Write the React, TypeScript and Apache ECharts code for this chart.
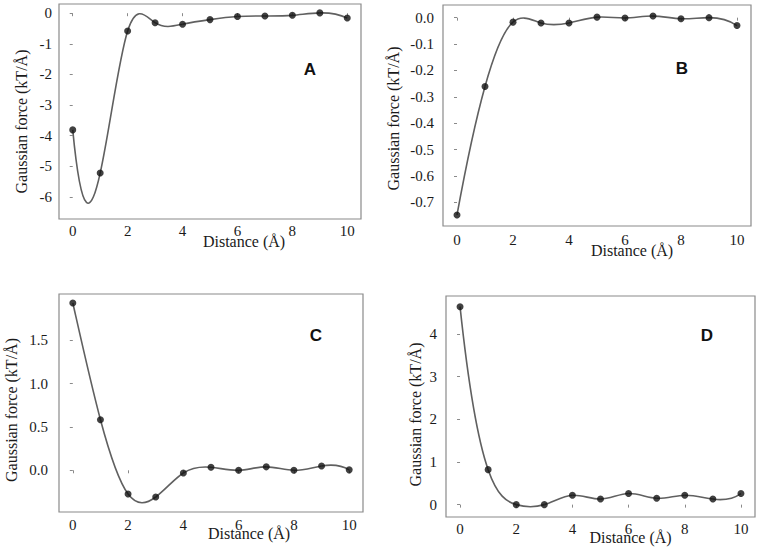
import React, { useEffect, useRef } from "react";
import * as echarts from "echarts";

// ---- Data ----
const distances = [0, 1, 2, 3, 4, 5, 6, 7, 8, 9, 10];
const forceA = [-3.81, -5.22, -0.58, -0.31, -0.36, -0.21, -0.11, -0.09, -0.07, 0.01, -0.16];
const forceB = [-0.748, -0.261, -0.017, -0.02, -0.02, 0.002, -0.001, 0.006, -0.004, 0.0, -0.03];
const forceC = [1.93, 0.584, -0.273, -0.308, -0.031, 0.035, 0.0, 0.04, 0.0, 0.05, 0.005];
const forceD = [4.64, 0.82, 0.0, 0.0, 0.22, 0.13, 0.26, 0.15, 0.22, 0.13, 0.26];

const xTicks = [0, 2, 4, 6, 8, 10];
const yTicksA = [-6, -5, -4, -3, -2, -1, 0];
const yTicksB = [-0.7, -0.6, -0.5, -0.4, -0.3, -0.2, -0.1, 0];
const yTicksC = [0, 0.5, 1, 1.5];
const yTicksD = [0, 1, 2, 3, 4];
const panelLetters = ["A", "B", "C", "D"];
const xTitle = "Distance (Å)";
const yTitle = "Gaussian force (kT/Å)";

// not-a-knot cubic spline slopes (curve rendering of the data points)
function splineSlopes(xs: number[], ys: number[]): number[] {
  const n = xs.length;
  const h = xs.slice(1).map((x, i) => x - xs[i]);
  const A: number[][] = Array.from({ length: n }, () => new Array(n).fill(0));
  const b: number[] = new Array(n).fill(0);
  for (let i = 1; i < n - 1; i++) {
    A[i][i - 1] = h[i - 1];
    A[i][i] = 2 * (h[i - 1] + h[i]);
    A[i][i + 1] = h[i];
    b[i] = 6 * ((ys[i + 1] - ys[i]) / h[i] - (ys[i] - ys[i - 1]) / h[i - 1]);
  }
  A[0][0] = h[1]; A[0][1] = -(h[0] + h[1]); A[0][2] = h[0];
  A[n - 1][n - 3] = h[n - 2]; A[n - 1][n - 2] = -(h[n - 3] + h[n - 2]); A[n - 1][n - 1] = h[n - 3];
  for (let c = 0; c < n; c++) {
    let p = c;
    for (let r = c + 1; r < n; r++) if (Math.abs(A[r][c]) > Math.abs(A[p][c])) p = r;
    [A[c], A[p]] = [A[p], A[c]];
    [b[c], b[p]] = [b[p], b[c]];
    for (let r = c + 1; r < n; r++) {
      const f = A[r][c] / A[c][c];
      if (f === 0) continue;
      for (let k = c; k < n; k++) A[r][k] -= f * A[c][k];
      b[r] -= f * b[c];
    }
  }
  const M = new Array(n).fill(0);
  for (let r = n - 1; r >= 0; r--) {
    let s = b[r];
    for (let k = r + 1; k < n; k++) s -= A[r][k] * M[k];
    M[r] = s / A[r][r];
  }
  return ys.map((_, i) =>
    i < n - 1
      ? (ys[i + 1] - ys[i]) / h[i] - (h[i] * (2 * M[i] + M[i + 1])) / 6
      : (ys[i] - ys[i - 1]) / h[i - 1] + (h[i - 1] * (M[i - 1] + 2 * M[i])) / 6
  );
}

const SERIF = "'Liberation Serif', 'Times New Roman', 'DejaVu Serif', serif";
const TEXT = "#1a1a1a";
const BOX = "#8a8a8a";

type Panel = {
  ys: number[];
  yTicks: number[];
  yMin: number;
  yMax: number;
  fmt: (v: number) => string;
  grid: { left: number; top: number; width: number; height: number };
  xLabelMargin: number;
  yLabelMargin: number;
  xNameGap: number;
  xNameShift: number;
  yNameGap: number;
  yNameShift: number;
  letterPos: [number, number];
};

const panels: Panel[] = [
  {
    ys: forceA, yTicks: yTicksA, yMin: -6.72, yMax: 0.3, fmt: (v) => String(v),
    grid: { left: 59, top: 4, width: 302, height: 215 },
    xLabelMargin: 4, yLabelMargin: 7, xNameGap: 14, xNameShift: 34, yNameGap: 30, yNameShift: 10,
    letterPos: [310, 69],
  },
  {
    ys: forceB, yTicks: yTicksB, yMin: -0.79, yMax: 0.048, fmt: (v) => v.toFixed(1),
    grid: { left: 443, top: 5, width: 308, height: 221 },
    xLabelMargin: 6, yLabelMargin: 9, xNameGap: 16, xNameShift: 35, yNameGap: 42, yNameShift: 3,
    letterPos: [682, 68],
  },
  {
    ys: forceC, yTicks: yTicksC, yMin: -0.481, yMax: 2.034, fmt: (v) => v.toFixed(1),
    grid: { left: 59, top: 294, width: 304, height: 218 },
    xLabelMargin: 5, yLabelMargin: 11, xNameGap: 13, xNameShift: 38, yNameGap: 40, yNameShift: 7,
    letterPos: [316, 335],
  },
  {
    ys: forceD, yTicks: yTicksD, yMin: -0.29, yMax: 4.89, fmt: (v) => String(v),
    grid: { left: 446, top: 296, width: 309, height: 221 },
    xLabelMargin: 4, yLabelMargin: 9, xNameGap: 12, xNameShift: 30, yNameGap: 23, yNameShift: 8,
    letterPos: [707, 335],
  },
];

export default function App() {
  const ref = useRef<HTMLDivElement>(null);
  useEffect(() => {
    if (!ref.current) return;
    const chart = echarts.init(ref.current, undefined, { renderer: "svg" });

    const grids: any[] = [];
    const xAxes: any[] = [];
    const yAxes: any[] = [];
    const series: any[] = [];
    const graphics: any[] = [];

    panels.forEach((p, gi) => {
      grids.push({
        ...p.grid,
        show: true,
        borderColor: BOX,
        borderWidth: 1.2,
        backgroundColor: "transparent",
        containLabel: false,
      });
      xAxes.push({
        type: "value",
        gridIndex: gi,
        min: -0.5,
        max: 10.5,
        name: xTitle,
        nameLocation: "middle",
        nameGap: p.xNameGap,
        nameMoveOverlap: false,
        nameTextStyle: {
          fontFamily: SERIF,
          fontSize: 16,
          color: TEXT,
          padding: [0, 0, 0, p.xNameShift * 2],
        },
        axisLine: { show: false },
        splitLine: { show: false },
        axisTick: {
          show: true,
          length: 3,
          customValues: xTicks,
          lineStyle: { color: BOX },
        },
        axisLabel: {
          customValues: xTicks,
          fontFamily: SERIF,
          fontSize: 15,
          color: TEXT,
          margin: p.xLabelMargin,
        },
      });
      yAxes.push({
        type: "value",
        gridIndex: gi,
        min: p.yMin,
        max: p.yMax,
        name: yTitle,
        nameLocation: "middle",
        nameGap: p.yNameGap,
        nameMoveOverlap: false,
        nameRotate: 90,
        nameTextStyle: {
          fontFamily: SERIF,
          fontSize: 16,
          color: TEXT,
          padding: [0, p.yNameShift * 2, 0, 0],
        },
        axisLine: { show: false },
        splitLine: { show: false },
        axisTick: {
          show: true,
          length: 3,
          customValues: p.yTicks,
          lineStyle: { color: BOX },
        },
        axisLabel: {
          customValues: p.yTicks,
          fontFamily: SERIF,
          fontSize: 15,
          color: TEXT,
          margin: p.yLabelMargin,
          formatter: (v: number) => p.fmt(v),
        },
      });

      const ys = p.ys;
      const slopes = splineSlopes(distances, ys);
      const pts = distances.map((x, i) => [x, ys[i]]);
      series.push({
        type: "custom",
        xAxisIndex: gi,
        yAxisIndex: gi,
        data: pts,
        encode: { x: 0, y: 1 },
        silent: true,
        renderItem: (params: any, api: any) => {
          const i = params.dataIndex;
          if (i >= distances.length - 1) return null;
          const x0 = distances[i];
          const x1 = distances[i + 1];
          const h = x1 - x0;
          const p0 = api.coord([x0, ys[i]]);
          const p3 = api.coord([x1, ys[i + 1]]);
          const c1 = api.coord([x0 + h / 3, ys[i] + (slopes[i] * h) / 3]);
          const c2 = api.coord([x1 - h / 3, ys[i + 1] - (slopes[i + 1] * h) / 3]);
          return {
            type: "bezierCurve",
            shape: {
              x1: p0[0], y1: p0[1], x2: p3[0], y2: p3[1],
              cpx1: c1[0], cpy1: c1[1], cpx2: c2[0], cpy2: c2[1],
            },
            style: { stroke: "#606060", lineWidth: 1.6, fill: null },
          };
        },
      });
      series.push({
        type: "scatter",
        xAxisIndex: gi,
        yAxisIndex: gi,
        data: pts,
        symbol: "circle",
        symbolSize: 7,
        itemStyle: { color: "#111" },
        silent: true,
      });
      graphics.push({
        type: "text",
        x: p.letterPos[0],
        y: p.letterPos[1],
        style: {
          text: panelLetters[gi],
          fontFamily: "'Liberation Sans', Arial, sans-serif",
          fontWeight: "bold",
          fontSize: 17,
          fill: "#111",
          align: "center",
          verticalAlign: "middle",
        },
      });
    });

    chart.setOption({
      animation: false,
      backgroundColor: "#ffffff",
      textStyle: { fontFamily: SERIF },
      grid: grids,
      xAxis: xAxes,
      yAxis: yAxes,
      series,
      graphic: graphics,
    });
    return () => chart.dispose();
  }, []);
  return (
    <div
      ref={ref}
      style={{ position: "fixed", left: 0, top: 0, width: 765, height: 554, background: "#fff" }}
    />
  );
}
